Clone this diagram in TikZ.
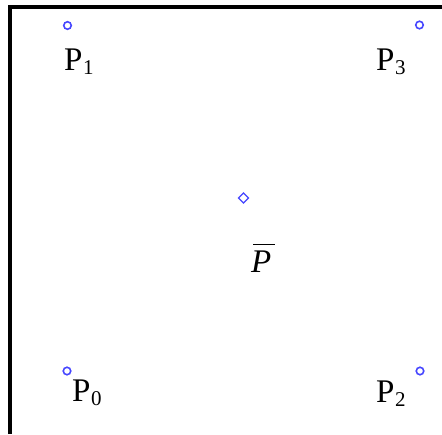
\documentclass[tikz,border=0pt]{standalone}
\usepackage{fontspec}
\setmainfont{Liberation Serif}
\usepackage{tikz}
\usetikzlibrary{shapes.geometric, positioning}
\definecolor{markblue}{RGB}{70,70,255}

\newcommand{\lowidx}[1]{\kern0.5pt\raisebox{-4pt}{\fontsize{21}{24}\selectfont #1}}

\tikzset{
    marker/.style={circle, draw=markblue, line width=1.6pt, minimum size=7.5pt, inner sep=0pt},
    centermark/.style={diamond, draw=markblue, line width=1.3pt, minimum size=10.5pt, inner sep=0pt},
    ptlabel/.style={font=\fontsize{33}{38}\selectfont, inner sep=0pt, anchor=base west}
}

\begin{document}
\begin{tikzpicture}[x=1pt, y=-1pt]
    % Canvas
    \useasboundingbox (0,0) rectangle (442,434);
    \fill[white] (0,0) rectangle (442,434);

    % Frame (top and left edges)
    \draw[line width=3.5pt] (10,434) -- (10,7) -- (442,7);

    % Control points
    \foreach \n/\x/\y in {p0/67/371, p1/67.5/25.5, p2/420/371, p3/419.5/25} {
        \node[marker] (\n) at (\x,\y) {};
    }

    % Centroid
    \node[centermark] (pbar) at (243.5,198) {};

    % Labels
    \node[ptlabel] (l1) at (64,70) {P\lowidx{1}};
    \node[ptlabel] (l3) at (376,70) {P\lowidx{3}};
    \node[ptlabel] (l0) at (72,401) {P\lowidx{0}};
    \node[ptlabel] (l2) at (376,402) {P\lowidx{2}};
    \node[ptlabel] (lbar) at (251,272) {\textit{P}};
    \draw[line width=1pt] (253,244) -- (275,244);
\end{tikzpicture}
\end{document}
